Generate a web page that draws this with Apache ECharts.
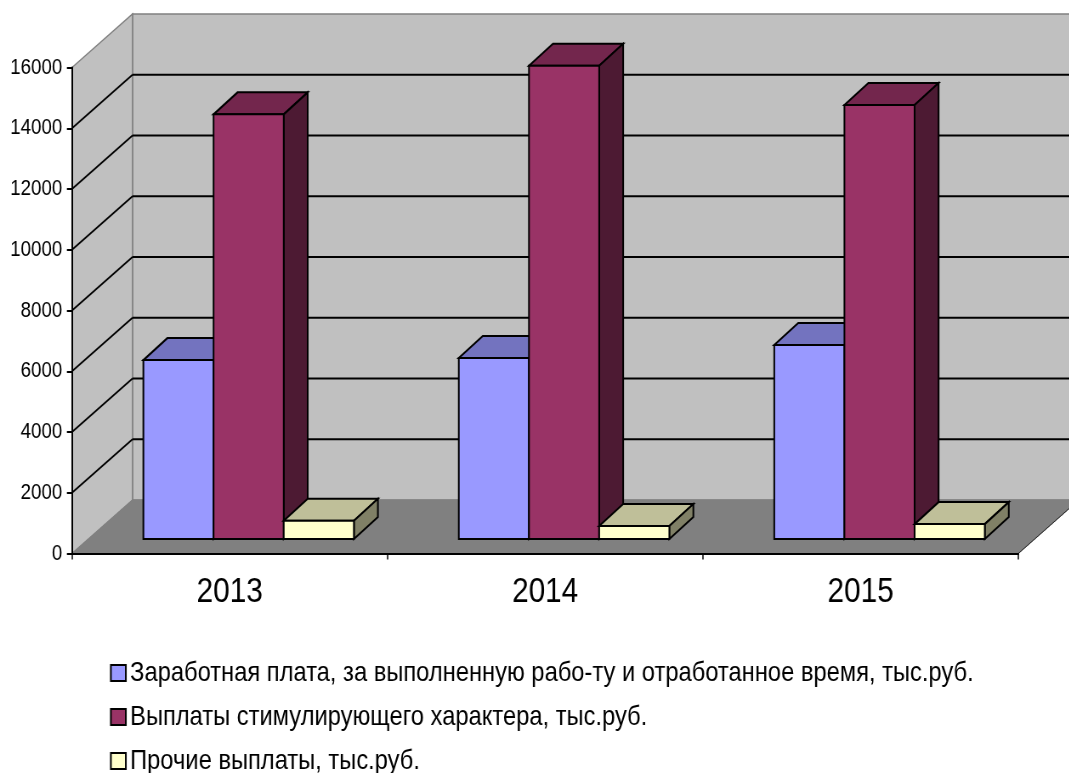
<!DOCTYPE html>
<html><head><meta charset="utf-8">
<style>html,body{margin:0;padding:0;background:#fff;overflow:hidden}
#w{width:1069px;height:773px;overflow:hidden;position:relative}
#c{height:773px;position:absolute;left:0;top:0;transform-origin:0 0}</style>
<script src="https://cdn.jsdelivr.net/npm/echarts@6/dist/echarts.min.js"></script>
</head><body><div id="w"><div id="c"></div></div>
<script>
const years = ['2013', '2014', '2015'];
const wageName = 'Заработная плата, за выполненную рабо-ту и отработанное время, тыс.руб.';
const bonusName = 'Выплаты стимулирующего характера, тыс.руб.';
const otherName = 'Прочие выплаты, тыс.руб.';
const wages = [5890, 5960, 6390];
const bonuses = [13980, 15580, 14290];
const others = [600, 430, 490];
const gridValues = [2000, 4000, 6000, 8000, 10000, 12000, 14000];

// The reference's type is condensed: the whole chart is laid out wider and squeezed horizontally.
const S = 0.85;
const FONT = '"Liberation Sans",Arial,sans-serif';
const WALL_DX = 60.5 / S, WALL_DY = -53.5;
const BAR_DX = 24 / S, BAR_DY = -22, BAR_LIFT = -14.5;
const GAP = 0.2262, BAR_W = 0.2225;

function poly(pts, fill, stroke, lw) {
  return {type: 'polygon', shape: {points: pts}, style: {fill: fill, stroke: stroke, lineWidth: lw, lineJoin: 'miter'}, silent: true};
}
function seg(a, b, stroke, lw) {
  return {type: 'line', shape: {x1: a[0], y1: a[1], x2: b[0], y2: b[1]}, style: {stroke: stroke, lineWidth: lw, lineCap: 'butt'}, silent: true};
}
function wallsItem(params, api) {
  const bottom = api.coord([0, 0]), top = api.coord([0, 16000]), band = api.size([1, 0])[0];
  const x0 = bottom[0] - band / 2, x1 = x0 + band * 3, y0 = bottom[1], yt = top[1];
  const d = p => [p[0] + WALL_DX, p[1] + WALL_DY];
  const grey = '#808080';
  return {type: 'group', children: [
    poly([d([x0, yt]), d([x1, yt]), d([x1, y0]), d([x0, y0])], '#C0C0C0', grey, 1.5),
    poly([[x0, yt], d([x0, yt]), d([x0, y0]), [x0, y0]], '#C0C0C0', grey, 1.5),
    poly([[x0, y0], [x1, y0], d([x1, y0]), d([x0, y0])], '#808080', grey, 1),
    seg([x1, y0], d([x1, y0]), '#222222', 1)
  ]};
}
function gridItem(params, api) {
  const p = api.coord([0, api.value(1)]), band = api.size([1, 0])[0];
  const x0 = p[0] - band / 2, x1 = x0 + band * 3, b = [x0 + WALL_DX, p[1] + WALL_DY];
  return {type: 'group', children: [
    seg([x0, p[1]], b, '#000', 1.8),
    seg(b, [x1 + WALL_DX, b[1]], '#000', 1.8)
  ]};
}
function barRenderer(slot, front, topCol, sideCol) {
  return function (params, api) {
    const i = api.value(0), v = api.value(1);
    const c = api.coord([i, v]), z = api.coord([i, 0]), band = api.size([1, 0])[0];
    const x = c[0] - band / 2 + band * (GAP + BAR_W * slot), w = band * BAR_W;
    const yT = c[1] + BAR_LIFT, yB = z[1] + BAR_LIFT;
    return {type: 'group', children: [
      poly([[x, yT], [x + w, yT], [x + w + BAR_DX, yT + BAR_DY], [x + BAR_DX, yT + BAR_DY]], topCol, '#000', 2),
      poly([[x + w, yT], [x + w + BAR_DX, yT + BAR_DY], [x + w + BAR_DX, yB + BAR_DY], [x + w, yB]], sideCol, '#000', 2),
      poly([[x, yT], [x + w, yT], [x + w, yB], [x, yB]], front, '#000', 2)
    ]};
  };
}
function barSeries(name, values, slot, front, topCol, sideCol) {
  return {
    name: name, type: 'custom', z: 4, clip: false, silent: true,
    itemStyle: {color: front, borderColor: '#000', borderWidth: 1.5},
    encode: {x: 0, y: 1},
    data: values.map((v, i) => [i, v]),
    renderItem: barRenderer(slot, front, topCol, sideCol)
  };
}
const el = document.getElementById('c');
el.style.width = (1069 / S) + 'px';
el.style.transform = 'scaleX(' + S + ')';
const chart = echarts.init(el, null, {renderer: 'canvas'});
chart.setOption({
  animation: false,
  backgroundColor: '#fff',
  grid: {left: 72 / S, right: 51 / S, top: 67.5, bottom: 219.5, containLabel: false, outerBoundsMode: 'none'},
  legend: {
    orient: 'vertical', left: 110 / S, top: 659, height: 300, itemWidth: 15 / S, itemHeight: 16, itemGap: 16, padding: 0,
    icon: 'rect', selectedMode: false, type: 'plain',
    data: [wageName, bonusName, otherName],
    textStyle: {fontFamily: FONT, fontSize: 27.9, color: '#000', lineHeight: 26}
  },
  xAxis: {
    type: 'category', data: years, z: 10,
    axisLine: {lineStyle: {color: '#000', width: 2}},
    axisTick: {show: true, alignWithLabel: false, length: 6, lineStyle: {color: '#000', width: 1.5}},
    axisLabel: {fontFamily: FONT, fontSize: 35, color: '#000', margin: 21}
  },
  yAxis: {
    type: 'value', min: 0, max: 16000, interval: 2000, z: 10,
    splitLine: {show: false},
    axisLine: {show: true, lineStyle: {color: '#000', width: 2}},
    axisTick: {show: true, length: 6, lineStyle: {color: '#000', width: 2}},
    axisLabel: {fontFamily: FONT, fontSize: 22, color: '#000', margin: 11.5, formatter: v => String(v)}
  },
  series: [
    {type: 'custom', z: 1, clip: false, silent: true, encode: {x: 0, y: 1}, data: [[0, 0]], renderItem: wallsItem},
    {type: 'custom', z: 2, clip: false, silent: true, encode: {x: 0, y: 1}, data: gridValues.map(v => [0, v]), renderItem: gridItem},
    barSeries(wageName, wages, 0, '#9999FF', '#7373BF', '#4D4D80'),
    barSeries(bonusName, bonuses, 1, '#993366', '#73264D', '#4D1A33'),
    barSeries(otherName, others, 2, '#FFFFCC', '#BFBF99', '#808066')
  ]
});
</script></body></html>
